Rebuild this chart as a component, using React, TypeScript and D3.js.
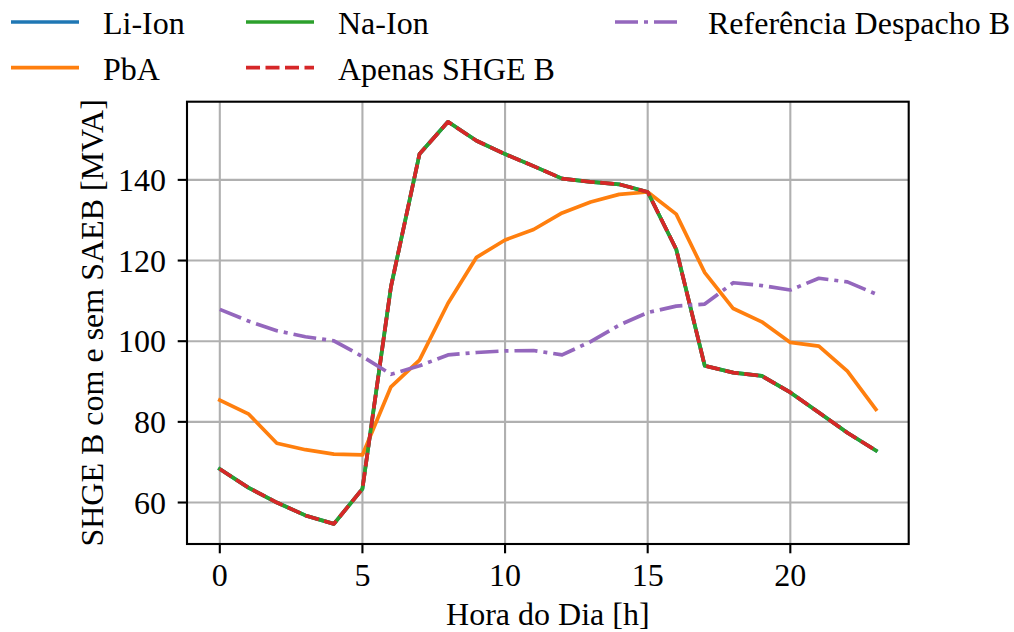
import React from "react";
import * as d3 from "d3";

const hours = [0,1,2,3,4,5,6,7,8,9,10,11,12,13,14,15,16,17,18,19,20,21,22,23];
const liIon = [68.3,63.7,60.0,56.8,54.7,63.4,113.5,146.4,154.4,149.7,146.4,143.4,140.3,139.5,138.9,137.0,122.8,93.9,92.2,91.4,87.3,82.3,77.3,72.9];
const pbA = [85.4,82.0,74.7,73.1,72.0,71.8,88.7,95.3,109.4,120.8,125.1,127.7,131.8,134.5,136.4,137.0,131.5,117.0,108.1,104.8,99.7,98.8,92.6,83.1];
const naIon = [68.3,63.7,60.0,56.8,54.7,63.4,113.5,146.4,154.4,149.7,146.4,143.4,140.3,139.5,138.9,137.0,122.8,93.9,92.2,91.4,87.3,82.3,77.3,72.9];
const apenas = [68.3,63.7,60.0,56.8,54.7,63.4,113.5,146.4,154.4,149.7,146.4,143.4,140.3,139.5,138.9,137.0,122.8,93.9,92.2,91.4,87.3,82.3,77.3,72.9];
const referencia = [107.9,105.0,102.6,101.1,100.1,96.2,91.8,93.9,96.6,97.2,97.6,97.7,96.6,99.9,104.0,107.1,108.7,109.2,114.5,113.8,112.7,115.6,114.7,111.7];

const xTicks = [0,5,10,15,20];
const yTicks = [60,80,100,120,140];
const seriesNames = ["Li-Ion","PbA","Na-Ion","Apenas SHGE B","Referência Despacho B"];

const W = 1014, H = 632;
const left = 187, right = 908.7, top = 101.7, bottom = 544;
const FONT = "'Liberation Serif', 'Times New Roman', serif";
const LW = 3.7;

export default function App() {
  const xMin = d3.min(hours)!, xMax = d3.max(hours)!;
  const xPad = (xMax - xMin) * 0.05;
  const x = d3.scaleLinear().domain([xMin - xPad, xMax + xPad]).range([left, right]);
  const all = [...liIon, ...pbA, ...naIon, ...apenas, ...referencia];
  const yMin = d3.min(all)!, yMax = d3.max(all)!;
  const yPad = (yMax - yMin) * 0.05;
  const y = d3.scaleLinear().domain([yMin - yPad, yMax + yPad]).range([bottom, top]);
  const line = d3.line<number>().x((_, i) => x(hours[i])).y((d) => y(d));

  const series = [
    { name: seriesNames[0], data: liIon, color: "#1f77b4", dash: undefined as string | undefined },
    { name: seriesNames[1], data: pbA, color: "#ff7f0e", dash: undefined },
    { name: seriesNames[2], data: naIon, color: "#2ca02c", dash: undefined },
    { name: seriesNames[3], data: apenas, color: "#d62728", dash: "14,5.5" },
    { name: seriesNames[4], data: referencia, color: "#9467bd", dash: "23,6,4,6" },
  ];

  // legend layout: column-major, 3 columns, 2 rows
  const colHandle = [11, 246, 615];
  const colText = [103, 338, 708];
  const rowY = [22, 67.7];
  const handleLen = 68;

  return (
    <div style={{ position: "fixed", left: 0, top: 0 }}>
      <svg width={W} height={H} style={{ display: "block", background: "#fff" }} fontFamily={FONT}>
        <rect x={0} y={0} width={W} height={H} fill="#fff" />
        {/* grid */}
        {xTicks.map((t) => (
          <line key={"gx" + t} x1={x(t)} x2={x(t)} y1={top} y2={bottom} stroke="#b0b0b0" strokeWidth={2.1} />
        ))}
        {yTicks.map((t) => (
          <line key={"gy" + t} x1={left} x2={right} y1={y(t)} y2={y(t)} stroke="#b0b0b0" strokeWidth={2.1} />
        ))}
        {/* lines */}
        <defs>
          <clipPath id="plotclip">
            <rect x={left} y={top} width={right - left} height={bottom - top} />
          </clipPath>
        </defs>
        <g clipPath="url(#plotclip)">
          {series.map((s) => (
            <path
              key={s.name}
              d={line(s.data) || ""}
              fill="none"
              stroke={s.color}
              strokeWidth={LW}
              strokeDasharray={s.dash}
              strokeLinejoin="round"
              strokeLinecap={s.dash ? "butt" : "square"}
            />
          ))}
        </g>
        {/* spines */}
        <rect x={left} y={top} width={right - left} height={bottom - top} fill="none" stroke="#000" strokeWidth={2.1} />
        {/* x ticks */}
        {xTicks.map((t) => (
          <g key={"xt" + t}>
            <line x1={x(t)} x2={x(t)} y1={bottom} y2={bottom + 9.3} stroke="#000" strokeWidth={2.1} />
            <text x={x(t)} y={586} textAnchor="middle" fontSize={32} fill="#000">{t}</text>
          </g>
        ))}
        {/* y ticks */}
        {yTicks.map((t) => (
          <g key={"yt" + t}>
            <line x1={left - 9.3} x2={left} y1={y(t)} y2={y(t)} stroke="#000" strokeWidth={2.1} />
            <text x={166} y={y(t) + 11} textAnchor="end" fontSize={32} fill="#000">{t}</text>
          </g>
        ))}
        {/* axis labels */}
        <text x={(left + right) / 2} y={625} textAnchor="middle" fontSize={32} fill="#000">Hora do Dia [h]</text>
        <text transform={`translate(103,${(top + bottom) / 2}) rotate(-90)`} textAnchor="middle" fontSize={32} fill="#000">
          SHGE B com e sem SAEB [MVA]
        </text>
        {/* legend */}
        {series.map((s, i) => {
          const col = Math.floor(i / 2);
          const row = i % 2;
          const yy = rowY[row];
          return (
            <g key={"lg" + s.name}>
              <line
                x1={colHandle[col]}
                x2={colHandle[col] + handleLen}
                y1={yy}
                y2={yy}
                stroke={s.color}
                strokeWidth={LW}
                strokeDasharray={s.dash}
                strokeLinecap="butt"
              />
              <text x={colText[col]} y={yy + 12} fontSize={32} fill="#000">{s.name}</text>
            </g>
          );
        })}
      </svg>
    </div>
  );
}
